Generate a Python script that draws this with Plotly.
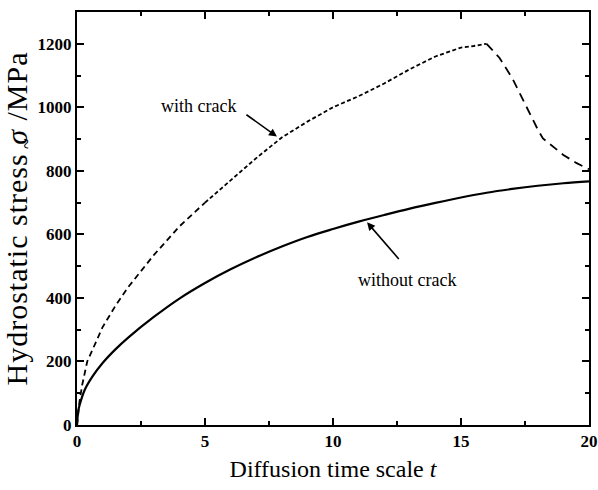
import plotly.graph_objects as go

# Hydrostatic stress vs. diffusion time, without crack (solid)
t_nocrack = [0, 0.05, 0.1, 0.3, 0.6, 1, 1.5, 2, 3, 4, 5, 6, 7, 8, 9, 10,
             11, 12, 13, 14, 15, 16, 17, 18, 19, 20]
s_nocrack = [0, 45, 62, 110, 152, 195, 238, 275, 340, 398, 447, 490, 528, 562,
             592, 617, 640, 661, 681, 699, 716, 731, 743, 753, 761, 767]

# With crack (dashed), split into three stretches with different dash spacing
t_crack_early = [0, 0.1, 0.2, 0.35, 0.4, 1, 1.5, 2, 3, 4, 5]
s_crack_early = [0, 75, 125, 190, 200, 308, 375, 434, 535, 625, 700]
t_crack_mid = [5, 6, 7, 8, 9, 10, 11, 12, 13, 14, 15, 15.5, 16]
s_crack_mid = [700, 770, 840, 905, 955, 1000, 1035, 1075, 1120, 1160, 1188, 1193, 1200]
t_crack_late = [16, 16.5, 17, 17.5, 18, 18.2, 19, 19.5, 20]
s_crack_late = [1200, 1156, 1092, 1010, 930, 902, 850, 825, 805]

x_ticks = [0, 5, 10, 15, 20]
y_ticks = [0, 200, 400, 600, 800, 1000, 1200]

SERIF = "Liberation Serif, Times New Roman, serif"

fig = go.Figure()
fig.add_trace(go.Scatter(x=t_nocrack, y=s_nocrack, mode="lines",
                         line=dict(color="black", width=2.2, shape="spline")))
fig.add_trace(go.Scatter(x=t_crack_early, y=s_crack_early, mode="lines",
                         line=dict(color="black", width=1.8, dash="6px,4px")))
fig.add_trace(go.Scatter(x=t_crack_mid, y=s_crack_mid, mode="lines",
                         line=dict(color="black", width=1.8, dash="4px,2.5px")))
fig.add_trace(go.Scatter(x=t_crack_late, y=s_crack_late, mode="lines",
                         line=dict(color="black", width=1.8, dash="9px,6px")))

# Labels with arrows
fig.add_annotation(x=4.73, y=1005, text="with crack", showarrow=False,
                   font=dict(family=SERIF, size=18, color="black"))
fig.add_annotation(x=7.81, y=908, ax=6.56, ay=980, axref="x", ayref="y",
                   text="", showarrow=True, arrowhead=2, arrowsize=1,
                   arrowwidth=1.6, arrowcolor="black")
fig.add_annotation(x=12.89, y=456, text="without crack", showarrow=False,
                   font=dict(family=SERIF, size=18, color="black"))
fig.add_annotation(x=11.33, y=638, ax=12.62, ay=518, axref="x", ayref="y",
                   text="", showarrow=True, arrowhead=2, arrowsize=1,
                   arrowwidth=1.6, arrowcolor="black")

# Tilde accent over the sigma in the rotated y-axis title
fig.add_annotation(xref="paper", yref="paper", x=-0.124, y=0.70, text="~",
                   showarrow=False, textangle=-90,
                   font=dict(family=SERIF, size=20, color="black"))

axis_common = dict(showline=True, linecolor="black", linewidth=2, mirror="ticks",
                   ticks="inside", ticklen=7, tickwidth=2, tickcolor="black",
                   showgrid=False, zeroline=False, automargin=False,
                   tickfont=dict(family=SERIF, size=17, color="black", weight="bold"))

fig.update_xaxes(range=[0, 20], tickvals=x_ticks, ticktext=[str(v) for v in x_ticks],
                 minor=dict(ticks="inside", dtick=2.5, ticklen=4, tickwidth=1.5,
                            tickcolor="black", showgrid=False),
                 title=dict(text="Diffusion time scale <i>t</i>",
                            font=dict(family=SERIF, size=24, color="black"), standoff=10),
                 **axis_common)
fig.update_yaxes(range=[0, 1300], tickvals=y_ticks, ticktext=[str(v) for v in y_ticks],
                 minor=dict(ticks="inside", dtick=100, ticklen=4, tickwidth=1.5,
                            tickcolor="black", showgrid=False),
                 title=dict(text='<span style="letter-spacing:1px">Hydrostatic stress <i>σ</i> /MPa</span>',
                            font=dict(family=SERIF, size=30, color="black"), standoff=2),
                 **axis_common)

fig.update_layout(width=598, height=490, showlegend=False,
                  margin=dict(l=77, r=9, t=12, b=65),
                  plot_bgcolor="white", paper_bgcolor="white")

fig.write_html("out.html")
